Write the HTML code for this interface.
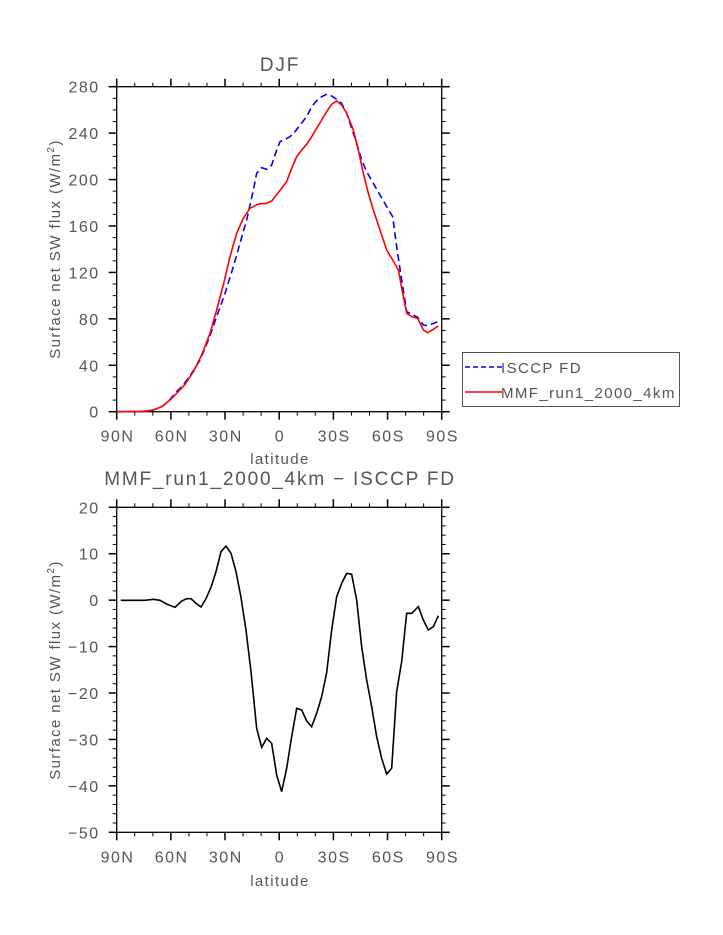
<!DOCTYPE html>
<html><head><meta charset="utf-8"><style>
html,body{margin:0;padding:0;background:#fff;}
svg{display:block;font-family:"Liberation Sans",sans-serif;}
text{fill:#555;}
.t{letter-spacing:1.8px;}
.l{letter-spacing:1.4px;}
</style></head><body>
<svg id="s" width="723" height="935" viewBox="0 0 723 935" xmlns="http://www.w3.org/2000/svg">
<text class="t" x="280" y="71" font-size="19" text-anchor="middle">DJF</text>
<text class="t" x="280" y="485" font-size="19" text-anchor="middle">MMF_run1_2000_4km − ISCCP FD</text>
<text class="l" x="280" y="464" font-size="15" text-anchor="middle">latitude</text>
<text class="l" x="280" y="886" font-size="15" text-anchor="middle">latitude</text>
<text class="l" transform="translate(60,249) rotate(-90)" font-size="15" text-anchor="middle">Surface net SW flux (W/m<tspan font-size="10" dy="-6">2</tspan><tspan dy="6">)</tspan></text>
<text class="l" transform="translate(60,670) rotate(-90)" font-size="15" text-anchor="middle">Surface net SW flux (W/m<tspan font-size="10" dy="-6">2</tspan><tspan dy="6">)</tspan></text>
<g id="ax"></g>
<g transform="translate(40,40) scale(0.33333)" fill="none">
<polyline vector-effect="non-scaling-stroke" stroke="#0000ff" stroke-width="1.6" stroke-dasharray="7,4" points="232,1115 310,1114 340,1110 365,1100 385,1085 405,1060 430,1035 455,1000 480,960 505,900 530,830 555,760 580,680 600,610 620,540 640,450 650,400 665,383 680,388 695,375 710,330 720,305 735,298 750,290 765,275 780,255 800,230 815,200 830,182 845,170 860,163 875,168 890,178 905,190 920,220 935,265 950,310 965,360 980,395 1000,430 1020,465 1040,500 1058,530 1070,620 1085,720 1100,815 1115,822 1133,832 1150,855 1165,857 1180,850 1195,845"/>
<polyline vector-effect="non-scaling-stroke" stroke="#ff0000" stroke-width="1.6" points="232,1115 310,1114 340,1110 365,1100 390,1080 410,1060 435,1033 460,995 485,945 510,880 530,810 550,735 570,650 590,580 610,535 630,505 655,492 680,490 695,483 715,458 740,425 755,385 770,350 785,330 800,313 815,290 830,265 845,240 860,215 875,193 890,183 905,195 920,220 940,270 955,330 970,400 985,460 1000,510 1020,570 1040,630 1058,660 1075,690 1090,770 1100,820 1115,830 1133,835 1150,870 1163,878 1180,868 1195,858"/>
</g>
<g transform="translate(90,490) scale(0.33333)" fill="none">
<polyline vector-effect="non-scaling-stroke" stroke="#000" stroke-width="1.6" points="92,331 165,331 190,328 210,331 230,342 255,352 275,333 290,326 303,326 318,340 333,351 348,326 363,292 378,245 393,185 408,168 423,190 438,245 453,322 468,420 483,545 500,715 515,772 530,745 545,760 560,855 575,905 590,835 605,740 620,655 635,660 650,693 665,710 680,670 695,620 710,548 725,420 740,320 755,280 770,250 785,253 800,330 815,470 830,570 845,650 860,740 875,805 890,852 905,835 920,605 935,515 950,370 965,370 985,350 1000,390 1015,420 1030,410 1045,377"/>
</g>
<rect x="462.5" y="352.5" width="217" height="54" fill="none" stroke="#555" stroke-width="1"/>
<line x1="465" y1="367" x2="502" y2="367" stroke="#0000ff" stroke-width="1.6" stroke-dasharray="5,3"/>
<line x1="465" y1="392" x2="502" y2="392" stroke="#ff0000" stroke-width="1.6"/>
<text class="l" x="501" y="373" font-size="15">ISCCP FD</text>
<text class="l" x="501" y="398" font-size="15">MMF_run1_2000_4km</text>
</svg>
<script>
var g=document.getElementById('ax'),NS='http://www.w3.org/2000/svg';
function el(t,a,txt){var e=document.createElementNS(NS,t);for(var k in a)e.setAttribute(k,a[k]);if(txt!==undefined)e.textContent=txt;g.appendChild(e);}
function ln(x1,y1,x2,y2,w){el('line',{x1:x1,y1:y1,x2:x2,y2:y2,stroke:'#000','stroke-width':w||1});}
function axes(L,R,T,B,ymin,ymax,ymaj,ymin_step,ylabels){
 el('rect',{x:L,y:T,width:R-L,height:B-T,fill:'none',stroke:'#000','stroke-width':1.3});
 var xl=['90N','60N','30N','0','30S','60S','90S'];
 for(var d=0;d<=180;d+=10){var x=L+(R-L)*d/180;var maj=d%30==0;var len=maj?8:4;
  ln(x,B,x,B+len,maj?1.5:1);ln(x,T,x,T-len,maj?1.5:1);
  if(maj)el('text',{x:x+0.8,y:B+30,'font-size':16,'text-anchor':'middle','letter-spacing':'1.5px'},xl[d/30]);}
 for(var v=ymin;v<=ymax+1e-6;v+=ymin_step){var y=B-(B-T)*(v-ymin)/(ymax-ymin);var maj=Math.abs(((v-ymin)/ymaj)-Math.round((v-ymin)/ymaj))<1e-6;var len=maj?8:4;
  ln(L,y,L-len,y,maj?1.5:1);ln(R,y,R+len,y,maj?1.5:1);
  if(maj)el('text',{x:L-17,y:y+6,'font-size':16,'text-anchor':'end','letter-spacing':'1.5px'},ylabels(v));}
}
axes(116.7,441.7,86.7,411.7,0,280,40,10,function(v){return ''+Math.round(v);});
axes(116.7,441.7,507.3,832.3,-50,20,10,2,function(v){v=Math.round(v);return v<0?'−'+(-v):''+v;});
</script>
</body></html>
